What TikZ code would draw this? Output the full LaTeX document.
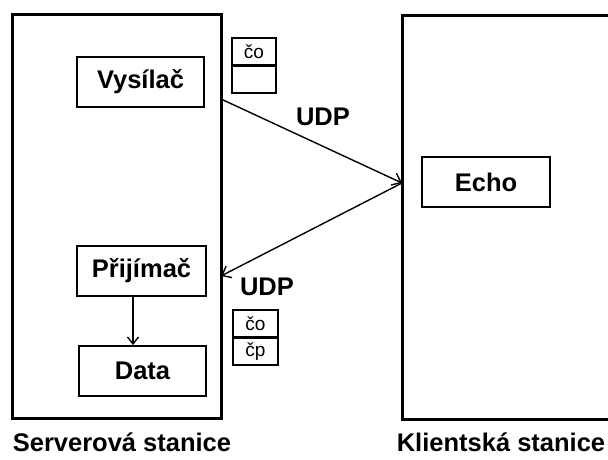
\documentclass[tikz,border=0pt]{standalone}
\usepackage{fontspec}
\setmainfont{Liberation Sans}
\usetikzlibrary{arrows.meta,calc}
\begin{document}
\begin{tikzpicture}[x=1pt,y=-1pt,
  station/.style={draw, line width=3pt, minimum width=209pt, minimum height=404pt, inner sep=0pt, outer sep=0pt},
  block/.style={draw, line width=1.8pt, minimum height=50pt, inner sep=0pt, font=\fontsize{25.5}{25.5}\selectfont\bfseries},
  cell/.style={draw, line width=1.6pt, minimum width=44pt, minimum height=26.5pt, inner sep=0pt, font=\fontsize{19}{19}\selectfont},
  lbl/.style={font=\fontsize{25.5}{25.5}\selectfont\bfseries, inner sep=0pt},
  flow/.style={line width=1.4pt, -{Straight Barb[length=8pt,width=13pt]}}]

\useasboundingbox (0,0) rectangle (608,459);
\clip (0,0) rectangle (608,459);

% the two stations
\node[station] (srv) at (116.5,216) {};
\node[station, minimum width=220pt] (cli) at (512,217) {};

% blocks inside the server station
\node[block, minimum width=127pt] (vys) at (140.5,82) {Vysílač};
\node[block, minimum width=129pt] (prij) at (141.5,271) {Přijímač};
\node[block, minimum width=127pt] (data) at (142.5,371) {Data};

% block inside the client station
\node[block, minimum width=128pt] (echo) at (486,182) {Echo};

% packet layouts
\node[cell] (p1a) at (254,51.5) {čo};
\node[cell, anchor=north] (p1b) at (p1a.south) {};
\node[cell, minimum width=45pt] (p2a) at (255.5,323.5) {čo};
\node[cell, minimum width=45pt, anchor=north] (p2b) at (p2a.south) {čp};

% protocol labels
\node[lbl] (udp1) at (323,117) {UDP};
\node[lbl] (udp2) at (267,287) {UDP};

% station captions
\node[lbl] (srvcap) at (122,442) {Serverová stanice};
\node[lbl] (clicap) at (501,442) {Klientská stanice};

% connection points on the station borders
\coordinate (out) at ($(srv.north east)+(0,85)$);
\coordinate (hit) at ($(cli.north west)+(0,168)$);
\coordinate (back) at ($(srv.north east)+(0,262)$);

% datagram exchange
\draw[flow] (out) -- (hit);
\draw[flow] (hit) -- (back);

% internal hand-over
\draw[line width=1.4pt, -{Straight Barb[length=7pt,width=11pt]}]
  ($(prij.south)+(-8.5,0)$) -- ($(data.north)+(-9.5,0)$);
\end{tikzpicture}
\end{document}
